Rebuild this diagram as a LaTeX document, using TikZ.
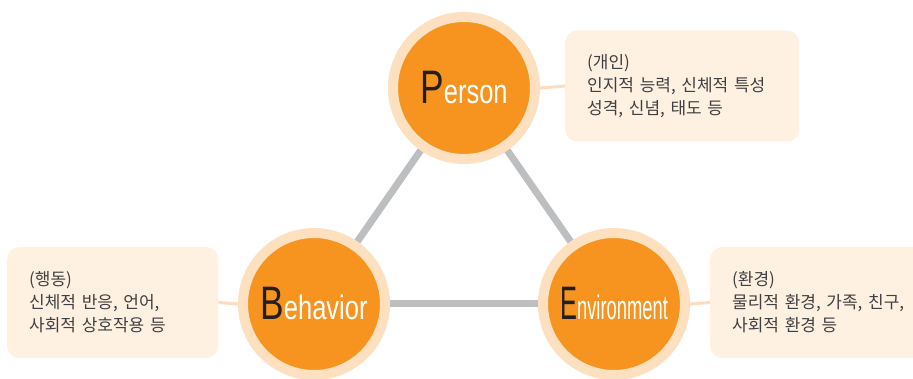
\documentclass[tikz,border=0pt]{standalone}
\usepackage{fontspec}
\setmainfont{Noto Sans CJK KR}
\newfontfamily\condfont[FakeStretch=0.75]{Liberation Sans}
\usetikzlibrary{backgrounds}
\definecolor{orng}{RGB}{247,148,31}
\definecolor{ring}{RGB}{253,224,192}
\definecolor{boxfill}{RGB}{254,241,225}
\definecolor{linkpeach}{RGB}{253,221,186}
\definecolor{trigray}{RGB}{188,190,192}
\definecolor{txtgray}{RGB}{64,64,66}
\definecolor{darkltr}{RGB}{35,31,32}
\newcommand{\agentname}[2]{{\condfont\fontsize{47}{47}\selectfont\color{darkltr}#1}{\condfont\fontsize{34}{34}\selectfont\color{white}#2}}
\tikzset{
	agent/.style={circle,fill=orng,draw=ring,line width=10pt,minimum size=142pt,inner sep=0pt},
	infobox/.style={rounded corners=12pt,fill=boxfill,minimum height=111pt,inner xsep=22pt,anchor=west,align=left,text=txtgray,font=\fontsize{17}{23}\selectfont},
	tri/.style={line width=7pt,color=trigray},
	link/.style={line width=3pt,color=linkpeach}
}

\begin{document}
\begin{tikzpicture}[line cap=round,line join=round,x=1pt,y=1pt]
	\useasboundingbox (0.,0.) rectangle (913.,379.);
	\clip (0.,0.) rectangle (913.,379.);
	% circles
	\node[agent] (person) at (464.,291.) {\agentname{P}{erson}};
	\node[agent] (behavior) at (314.,75.) {\agentname{B}{ehavior}};
	\node[agent] (environment) at (614.,75.) {\scalebox{0.72}[1]{\agentname{E}{nvironment}}};
	% boxes
	\node[infobox,text width=190pt] (personbox) at (565.,293.) {(개인)\\인지적 능력, 신체적 특성\\성격, 신념, 태도 등};
	\node[infobox,text width=167pt] (behaviorbox) at (7.,76.5) {(행동)\\신체적 반응, 언어,\\사회적 상호작용 등};
	\node[infobox,text width=186pt] (environmentbox) at (710.,76.5) {(환경)\\물리적 환경, 가족, 친구,\\사회적 환경 등};

	\begin{pgfonlayer}{background}
		\draw[tri] (person) -- (behavior);
		\draw[tri] (person) -- (environment);
		\draw[tri] (behavior) -- (environment);
		\draw[link,line cap=butt] (person.east) -- (personbox.west);
		\draw[link,line cap=butt] (behaviorbox.east) -- (behavior.west);
		\draw[link,line cap=butt] (environment.east) -- (environmentbox.west);
	\end{pgfonlayer}
\end{tikzpicture}
\end{document}
